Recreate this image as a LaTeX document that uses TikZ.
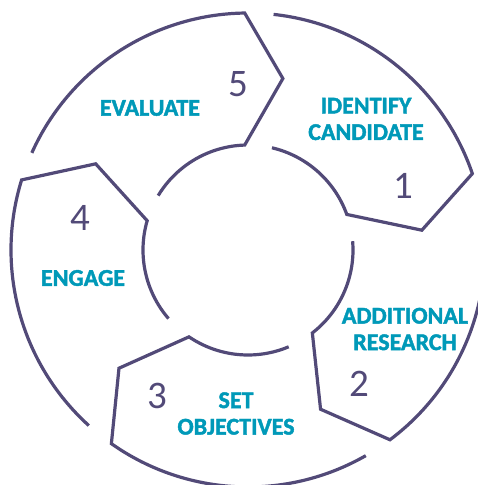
\documentclass[tikz,border=0pt]{standalone}
\usepackage{fontspec}
\setmainfont{Carlito}
\newfontfamily\stagefont[FakeBold=1.8]{Carlito Bold}
\usepackage{tikz}
\usetikzlibrary{positioning, calc}
\definecolor{ringline}{HTML}{524A78}
\definecolor{stageteal}{HTML}{0099B8}

\begin{document}
\begin{tikzpicture}[x=1pt, y=1pt,
	stage/.style={text=stageteal, font=\fontsize{24}{26.5}\stagefont, align=center, inner sep=0pt},
	stagenum/.style={text=ringline, font=\fontsize{39}{39}\selectfont, inner sep=0pt},
	ring/.style={draw=ringline, line width=3.2pt}]
				\useasboundingbox (-248,-235) rectangle (230,250);
				\pgfmathsetmacro{\outerr}{237}
				\pgfmathsetmacro{\innerr}{105}
				\pgfmathsetmacro{\tipr}{175}
				% one arrow segment per stage, clockwise
				\foreach \base in {155.8, 83.8, 11.8, -60.2, -132.2} {
					\draw[ring] (\base:\outerr) arc[start angle=\base, end angle=\base-65, radius=\outerr]
						-- (\base-77.3:\tipr) -- (\base-64:\innerr)
						arc[start angle=\base-64, end angle=\base-7, radius=\innerr];
				}
				
				\node[stage] (evaluate) at (-98,142) {EVALUATE};
				\node[stage] (identify) at (118,131) {IDENTIFY\\CANDIDATE};
				\node[stage] (research) at (157,-79) {ADDITIONAL\\RESEARCH};
				\node[stage] (objectives) at (-12,-163.5) {SET\\OBJECTIVES};
				\node[stage] (engage) at (-165,-28) {ENGAGE};
				
				\node[stagenum] (num5) at (-10,166) {5};
				\node[stagenum] (num1) at (155,64) {1};
				\node[stagenum] (num2) at (111,-134) {2};
				\node[stagenum] (num3) at (-91,-146) {3};
				\node[stagenum] (num4) at (-168,32) {4};
\end{tikzpicture}
\end{document}
